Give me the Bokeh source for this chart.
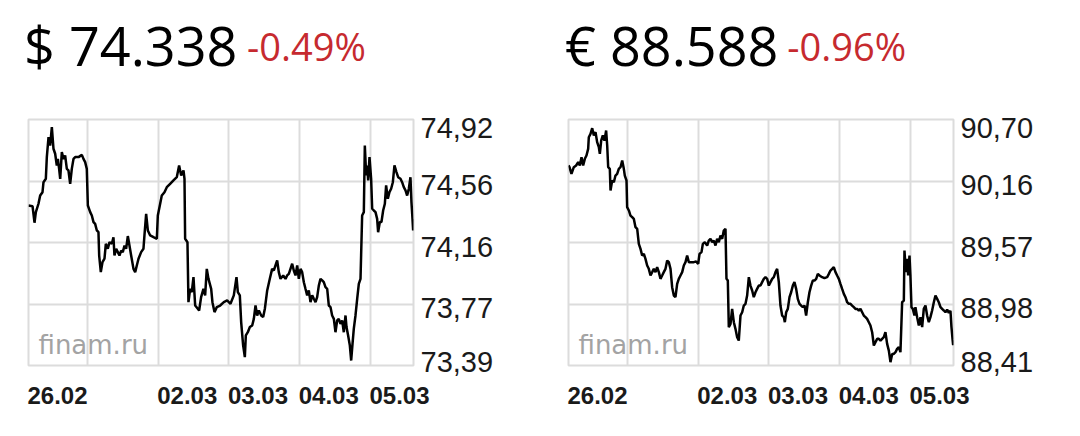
import numpy as np
from bokeh.plotting import figure
from bokeh.models import Range1d, FixedTicker, Label
from bokeh.layouts import row, column
from bokeh.embed import file_html
from bokeh.resources import INLINE

# ---- shared x axis (trading days) ----
x_tick_pos = [0.166, 1, 2, 3, 4, 5]
x_tick_labels = ["26.02", "", "02.03", "03.03", "04.03", "05.03"]
x_end = 5.608

# ---- USD/RUB ----
usd_price = "$ 74.338"
usd_change = "-0.49%"
usd_y_min, usd_y_max = 73.39, 74.92
usd_y_labels = ["73,39", "73,77", "74,16", "74,56", "74,92"]
usd_t = [
    0.166, 0.223, 0.251, 0.270, 0.307, 0.331, 0.364, 0.378, 0.411, 0.425,
    0.449, 0.472, 0.496, 0.519, 0.543, 0.566, 0.581, 0.599, 0.614, 0.637,
    0.661, 0.684, 0.708, 0.731, 0.755, 0.778, 0.802, 0.826, 0.873, 0.920,
    0.943, 0.967, 0.990, 1.005, 1.038, 1.061, 1.085, 1.108, 1.132, 1.155,
    1.165, 1.188, 1.212, 1.240, 1.259, 1.287, 1.311, 1.344, 1.367, 1.381,
    1.405, 1.429, 1.452, 1.476, 1.499, 1.523, 1.546, 1.570, 1.593, 1.617,
    1.650, 1.674, 1.697, 1.721, 1.758, 1.791, 1.805, 1.829, 1.853, 1.886,
    1.933, 1.980, 1.994, 2.027, 2.050, 2.088, 2.121, 2.168, 2.215, 2.262,
    2.295, 2.324, 2.357, 2.371, 2.380, 2.413, 2.427, 2.451, 2.474, 2.498,
    2.522, 2.559, 2.578, 2.606, 2.639, 2.663, 2.686, 2.710, 2.748, 2.766,
    2.795, 2.828, 2.875, 2.927, 2.974, 3.021, 3.068, 3.106, 3.125, 3.153,
    3.172, 3.200, 3.224, 3.238, 3.266, 3.295, 3.328, 3.351, 3.375, 3.398,
    3.422, 3.455, 3.483, 3.507, 3.540, 3.577, 3.610, 3.634, 3.657, 3.681,
    3.704, 3.728, 3.766, 3.799, 3.822, 3.846, 3.869, 3.893, 3.916, 3.940,
    3.964, 3.987, 4.011, 4.034, 4.058, 4.081, 4.105, 4.128, 4.152, 4.176,
    4.199, 4.223, 4.246, 4.270, 4.293, 4.317, 4.340, 4.364, 4.388, 4.411,
    4.435, 4.458, 4.482, 4.505, 4.529, 4.552, 4.576, 4.600, 4.623, 4.647,
    4.661, 4.684, 4.708, 4.727, 4.746, 4.764, 4.788, 4.812, 4.835, 4.859,
    4.882, 4.906, 4.920, 4.939, 4.953, 4.967, 4.986, 5.009, 5.024, 5.047,
    5.071, 5.094, 5.108, 5.132, 5.155, 5.179, 5.203, 5.221, 5.245, 5.268,
    5.292, 5.316, 5.339, 5.367, 5.391, 5.424, 5.447, 5.471, 5.495, 5.518,
    5.542, 5.565, 5.579, 5.590, 5.603, 5.608,
]
usd_v = [
    74.385, 74.381, 74.278, 74.344, 74.396, 74.447, 74.468, 74.530, 74.551, 74.686,
    74.810, 74.758, 74.872, 74.738, 74.707, 74.634, 74.675, 74.613, 74.551, 74.717,
    74.675, 74.696, 74.613, 74.603, 74.520, 74.613, 74.675, 74.686, 74.686, 74.700,
    74.675, 74.655, 74.613, 74.385, 74.344, 74.323, 74.282, 74.271, 74.230, 74.219,
    74.074, 73.971, 74.033, 74.054, 74.147, 74.116, 74.157, 74.147, 74.188, 74.074,
    74.116, 74.095, 74.074, 74.105, 74.095, 74.136, 74.116, 74.195, 74.136, 74.074,
    73.991, 73.971, 74.012, 74.054, 74.095, 74.116, 74.199, 74.333, 74.230, 74.199,
    74.188, 74.178, 74.323, 74.396, 74.447, 74.468, 74.499, 74.520, 74.541, 74.561,
    74.634, 74.572, 74.603, 74.551, 74.178, 74.157, 73.784, 73.867, 73.846, 73.940,
    73.763, 73.743, 73.732, 73.815, 73.867, 73.826, 73.991, 73.929, 73.867, 73.784,
    73.722, 73.753, 73.763, 73.784, 73.795, 73.774, 73.826, 73.940, 73.846, 73.826,
    73.660, 73.515, 73.442, 73.577, 73.597, 73.629, 73.639, 73.680, 73.763, 73.701,
    73.732, 73.701, 73.691, 73.743, 73.857, 73.929, 73.991, 73.981, 74.012, 74.043,
    73.971, 73.929, 73.950, 73.929, 73.950, 73.960, 73.991, 74.023, 73.981, 73.950,
    74.012, 73.929, 73.991, 73.971, 73.908, 73.867, 73.826, 73.857, 73.784, 73.826,
    73.805, 73.784, 73.815, 73.888, 73.929, 73.919, 73.908, 73.877, 73.867, 73.763,
    73.753, 73.701, 73.680, 73.597, 73.670, 73.680, 73.649, 73.670, 73.597, 73.701,
    73.629, 73.577, 73.515, 73.421, 73.525, 73.618, 73.701, 73.805, 73.898, 73.929,
    74.323, 74.344, 74.758, 74.572, 74.634, 74.541, 74.686, 74.551, 74.365, 74.354,
    74.344, 74.302, 74.219, 74.282, 74.282, 74.354, 74.396, 74.510, 74.427, 74.468,
    74.489, 74.530, 74.634, 74.593, 74.561, 74.551, 74.530, 74.499, 74.479, 74.447,
    74.489, 74.561, 74.406, 74.330, 74.230, 74.300,
]

# ---- EUR/RUB ----
eur_price = "\u20ac 88.588"
eur_change = "-0.96%"
eur_y_min, eur_y_max = 88.41, 90.70
eur_y_labels = ["88,41", "88,98", "89,57", "90,16", "90,70"]
eur_t = [
    0.166, 0.180, 0.208, 0.241, 0.274, 0.303, 0.326, 0.350, 0.373, 0.397,
    0.420, 0.444, 0.453, 0.477, 0.501, 0.524, 0.548, 0.571, 0.595, 0.609,
    0.628, 0.651, 0.675, 0.698, 0.713, 0.727, 0.750, 0.760, 0.783, 0.807,
    0.830, 0.854, 0.877, 0.901, 0.925, 0.948, 0.962, 0.986, 0.995, 1.019,
    1.042, 1.066, 1.089, 1.113, 1.137, 1.160, 1.184, 1.207, 1.231, 1.254,
    1.278, 1.301, 1.325, 1.349, 1.372, 1.396, 1.419, 1.443, 1.466, 1.490,
    1.513, 1.537, 1.561, 1.584, 1.608, 1.631, 1.655, 1.678, 1.702, 1.725,
    1.749, 1.773, 1.796, 1.820, 1.843, 1.867, 1.904, 1.937, 1.970, 1.999,
    2.018, 2.046, 2.065, 2.093, 2.126, 2.149, 2.173, 2.197, 2.220, 2.244,
    2.267, 2.291, 2.314, 2.338, 2.361, 2.385, 2.399, 2.418, 2.432, 2.456,
    2.479, 2.503, 2.526, 2.550, 2.573, 2.597, 2.621, 2.644, 2.668, 2.691,
    2.715, 2.738, 2.762, 2.785, 2.809, 2.832, 2.856, 2.880, 2.903, 2.927,
    2.950, 2.974, 2.998, 3.021, 3.045, 3.068, 3.092, 3.115, 3.139, 3.162,
    3.186, 3.210, 3.224, 3.243, 3.266, 3.290, 3.313, 3.337, 3.360, 3.384,
    3.407, 3.431, 3.455, 3.478, 3.502, 3.525, 3.549, 3.572, 3.596, 3.619,
    3.643, 3.667, 3.690, 3.714, 3.751, 3.784, 3.822, 3.846, 3.869, 3.893,
    3.916, 3.940, 3.963, 3.987, 4.010, 4.034, 4.058, 4.081, 4.105, 4.128,
    4.152, 4.175, 4.199, 4.222, 4.246, 4.270, 4.293, 4.317, 4.340, 4.364,
    4.387, 4.411, 4.434, 4.458, 4.482, 4.505, 4.529, 4.552, 4.576, 4.599,
    4.623, 4.646, 4.670, 4.694, 4.717, 4.741, 4.764, 4.788, 4.811, 4.835,
    4.858, 4.882, 4.906, 4.915, 4.934, 4.953, 4.967, 4.986, 4.999, 5.014,
    5.033, 5.056, 5.070, 5.094, 5.118, 5.141, 5.165, 5.188, 5.212, 5.235,
    5.259, 5.282, 5.306, 5.330, 5.353, 5.377, 5.400, 5.424, 5.447, 5.471,
    5.494, 5.518, 5.542, 5.565, 5.579, 5.595, 5.603, 5.608,
]
eur_v = [
    90.272, 90.256, 90.194, 90.256, 90.272, 90.303, 90.272, 90.349, 90.272, 90.334,
    90.365, 90.427, 90.535, 90.566, 90.619, 90.551, 90.582, 90.489, 90.442, 90.380,
    90.504, 90.551, 90.504, 90.597, 90.458, 90.256, 90.241, 90.039, 90.132, 90.116,
    90.178, 90.194, 90.241, 90.256, 90.318, 90.241, 90.178, 90.132, 89.884, 89.853,
    89.806, 89.791, 89.775, 89.698, 89.682, 89.542, 89.496, 89.434, 89.449, 89.403,
    89.341, 89.310, 89.248, 89.279, 89.310, 89.279, 89.325, 89.279, 89.217, 89.248,
    89.279, 89.310, 89.387, 89.372, 89.310, 89.139, 89.061, 89.046, 89.170, 89.217,
    89.248, 89.279, 89.341, 89.372, 89.434, 89.372, 89.372, 89.372, 89.378, 89.356,
    89.449, 89.465, 89.542, 89.558, 89.527, 89.573, 89.589, 89.558, 89.573, 89.527,
    89.589, 89.558, 89.620, 89.589, 89.666, 89.682, 89.217, 89.201, 88.767, 88.798,
    88.937, 88.813, 88.751, 88.674, 88.642, 88.875, 88.906, 88.968, 88.984, 89.061,
    89.232, 89.154, 89.108, 89.046, 89.092, 89.123, 89.154, 89.154, 89.186, 89.217,
    89.232, 89.217, 89.154, 89.186, 89.217, 89.232, 89.279, 89.310, 89.186, 88.968,
    88.875, 88.860, 88.813, 88.906, 88.937, 89.046, 89.092, 89.154, 89.186, 89.123,
    89.030, 88.984, 88.968, 88.953, 88.968, 88.875, 88.999, 89.092, 89.154, 89.201,
    89.201, 89.217, 89.263, 89.248, 89.232, 89.223, 89.232, 89.263, 89.294, 89.310,
    89.325, 89.279, 89.248, 89.217, 89.170, 89.123, 89.077, 89.046, 88.999, 88.984,
    88.984, 88.968, 88.953, 88.937, 88.937, 88.922, 88.937, 88.906, 88.875, 88.860,
    88.844, 88.813, 88.782, 88.720, 88.596, 88.627, 88.658, 88.658, 88.642, 88.658,
    88.674, 88.720, 88.611, 88.549, 88.441, 88.518, 88.518, 88.534, 88.565, 88.580,
    88.534, 88.999, 89.015, 89.480, 89.279, 89.403, 89.248, 89.434, 89.248, 88.953,
    88.937, 88.875, 88.953, 88.860, 88.782, 88.860, 88.767, 88.937, 88.968, 88.875,
    88.813, 88.860, 88.922, 88.999, 89.061, 89.030, 88.999, 88.953, 88.937, 88.922,
    88.906, 88.930, 88.900, 88.920, 88.770, 88.650, 88.600, 88.630,
]

# ---- styling constants ----
GRID = "#dcdcdc"
RED = "#c62a2f"
FRAME_W, FRAME_H = 385, 246
HEADER_H = 111
PANEL_H = 320
X_LABEL_SHIFT_PX = 29      # labels sit to the right of their day line
Y_LABEL_SHIFT_PX = [-4, 3.5, 4, 3.5, 8.5]   # bottom..top, positive = lower


def panel(t, v, ymin, ymax, ylabels, width):
    p = figure(width=width, height=PANEL_H, output_backend="svg", toolbar_location=None,
               x_range=Range1d(x_tick_pos[0], x_end), y_range=Range1d(ymin, ymax),
               y_axis_location="right", min_border_left=28,
               min_border_right=width - 28 - FRAME_W,
               min_border_top=8, min_border_bottom=PANEL_H - 8 - FRAME_H)
    p.background_fill_color = "white"
    p.border_fill_color = "white"
    p.outline_line_color = GRID
    p.outline_line_width = 2

    xt = [float(x) for x in x_tick_pos]
    yt = [float(y) for y in np.linspace(ymin, ymax, len(ylabels))]
    x_per_px = (x_end - x_tick_pos[0]) / FRAME_W
    y_per_px = (ymax - ymin) / FRAME_H
    xt_lab = [x + X_LABEL_SHIFT_PX * x_per_px for x in xt]
    yt_lab = [y - s * y_per_px for y, s in zip(yt, Y_LABEL_SHIFT_PX)]

    p.xaxis.ticker = FixedTicker(ticks=xt_lab)
    p.xaxis.major_label_overrides = dict(zip(xt_lab, x_tick_labels))
    p.yaxis.ticker = FixedTicker(ticks=yt_lab)
    p.yaxis.major_label_overrides = dict(zip(yt_lab, ylabels))
    p.xgrid.ticker = FixedTicker(ticks=xt)
    p.ygrid.ticker = FixedTicker(ticks=yt)
    for g in (p.xgrid, p.ygrid):
        g.grid_line_color = GRID
        g.grid_line_width = 2

    for ax in (p.xaxis, p.yaxis):
        ax.axis_line_color = None
        ax.major_tick_line_color = None
        ax.minor_tick_line_color = None
        ax.major_tick_out = 0
        ax.major_tick_in = 0
        ax.major_label_text_font = "Liberation Sans"
        ax.major_label_text_color = "#1a1a1a"

    p.xaxis.major_label_text_font_size = "24px"
    p.xaxis.major_label_text_font_style = "bold"
    p.xaxis.major_label_standoff = 21
    p.yaxis.major_label_text_font_size = "29px"
    p.yaxis.major_label_standoff = 7

    p.line(t, v, line_color="black", line_width=2.5)

    p.add_layout(Label(x=10, y=21, x_units="screen", y_units="screen", text="finam.ru",
                       text_font="DejaVu Sans", text_font_size="26px", text_color="#a3a3a3",
                       text_baseline="alphabetic"))
    return p


# ---- header (prices) ----
W_LEFT, W_RIGHT = 540, 530
head = figure(width=W_LEFT + W_RIGHT, height=HEADER_H, output_backend="svg",
              toolbar_location=None, x_range=Range1d(0, W_LEFT + W_RIGHT),
              y_range=Range1d(0, HEADER_H), x_axis_type=None, y_axis_type=None,
              min_border=0)
head.outline_line_color = None
head.background_fill_color = "white"
head.border_fill_color = "white"
head.xgrid.visible = False
head.ygrid.visible = False
for x0, price, change, dx_price, dx_change in [(0, usd_price, usd_change, 23.5, 246.5),
                                               (W_LEFT, eur_price, eur_change, 24.5, 246.8)]:
    head.add_layout(Label(x=x0 + dx_price, y=67, text=price, text_font="Open Sans",
                          text_font_size="54px", text_color="black",
                          text_baseline="alphabetic"))
    head.add_layout(Label(x=x0 + dx_change, y=66, text=change, text_font="Open Sans",
                          text_font_size="38px", text_color=RED,
                          text_baseline="alphabetic"))

p1 = panel(usd_t, usd_v, usd_y_min, usd_y_max, usd_y_labels, W_LEFT)
p2 = panel(eur_t, eur_v, eur_y_min, eur_y_max, eur_y_labels, W_RIGHT)

layout = column(head, row(p1, p2))
open("out.html", "w").write(file_html(layout, INLINE))
